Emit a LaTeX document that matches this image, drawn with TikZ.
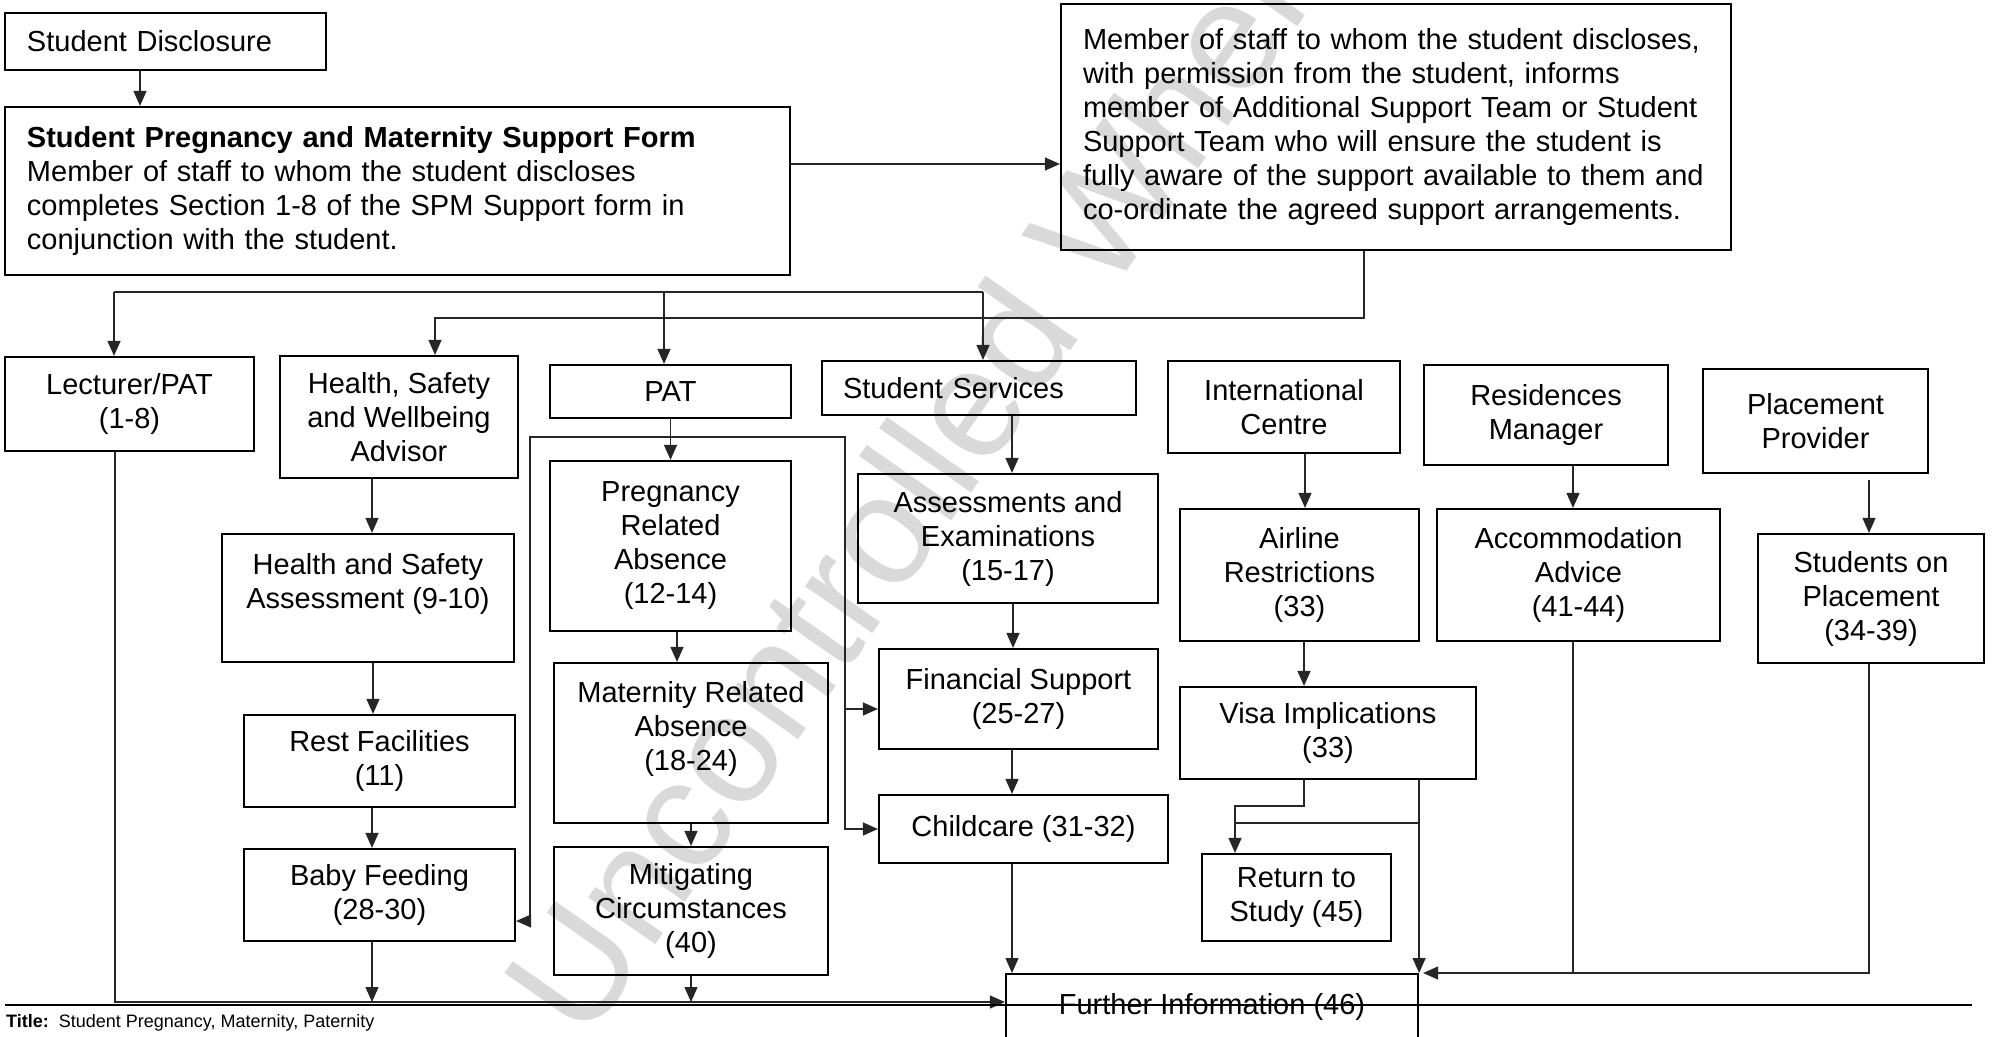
\documentclass[tikz,border=0pt]{standalone}
\usepackage{fontspec}
\setmainfont{Liberation Sans}
\usetikzlibrary{arrows.meta}

\begin{document}
\begin{tikzpicture}[x=1pt, y=-1pt]
\tikzset{ >={Triangle[length=15pt,width=13pt]},
  box/.style={draw, line width=2.2pt, align=center, inner sep=4pt, font=\fontsize{29}{34}\selectfont},
  lbox/.style={box, align=left, inner xsep=22pt},
  link/.style={line width=1.3pt, black!85},
  rule/.style={line width=2.6pt},
  wmark/.style={gray!30, inner sep=0pt, font=\fontsize{155}{155}\selectfont},
}

\useasboundingbox (0,0) rectangle (2015,1036);

% watermark behind everything
\node [wmark, rotate=55, anchor=base west] (wm) at (585,1045) {Uncontrolled When Printed};

\node [lbox, minimum width=321pt, minimum height=57pt, text width=277pt] (disc) at (165.5,41.5) {Student Disclosure};
\node [lbox, minimum width=785pt, minimum height=168pt, text width=741pt] (spm) at (397.5,191) {\textbf{Student Pregnancy and Maternity Support Form}\\Member of staff to whom the student discloses\\completes Section 1-8 of the SPM Support form in\\conjunction with the student.};
\node [lbox, minimum width=670pt, minimum height=246pt, text width=626pt] (inform) at (1396,127) {Member of staff to whom the student discloses,\\with permission from the student, informs\\member of Additional Support Team or Student\\Support Team who will ensure the student is\\fully aware of the support available to them and\\co-ordinate the agreed support arrangements.};

\node [box, minimum width=249pt, minimum height=94pt] (lect) at (129.5,404) {Lecturer/PAT\\(1-8)};
\node [box, minimum width=238pt, minimum height=122pt] (hsw) at (399,417) {Health, Safety\\and Wellbeing\\Advisor};
\node [box, minimum width=241pt, minimum height=53pt] (pat) at (670.5,391.5) {PAT};
\node [lbox, inner xsep=21pt, minimum width=314pt, minimum height=54pt, text width=272pt] (ss) at (979,388) {Student Services};
\node [box, minimum width=232pt, minimum height=92pt] (ic) at (1284,407) {International\\Centre};
\node [box, minimum width=244pt, minimum height=100pt] (rm) at (1546,415) {Residences\\Manager};
\node [box, minimum width=225pt, minimum height=104pt] (pp) at (1815.5,421) {Placement\\Provider};

\node [box, minimum width=292pt, minimum height=128pt] (hsa) at (368,598) {Health and Safety\\Assessment (9-10)\\\mbox{}};
\node [box, minimum width=241pt, minimum height=170pt] (preg) at (670.5,546) {Pregnancy\\Related\\Absence\\(12-14)};
\node [box, minimum width=300pt, minimum height=129pt] (aae) at (1008,538.5) {Assessments and\\Examinations\\(15-17)};
\node [box, minimum width=239pt, minimum height=132pt] (air) at (1299.5,575) {Airline\\Restrictions\\(33)};
\node [box, minimum width=283pt, minimum height=132pt] (acc) at (1578.5,575) {Accommodation\\Advice\\(41-44)};
\node [box, minimum width=226pt, minimum height=129pt] (sop) at (1871,598.5) {Students on\\Placement\\(34-39)};

\node [box, minimum width=271pt, minimum height=92pt] (rest) at (379.5,761) {Rest Facilities\\(11)};
\node [box, minimum width=274pt, minimum height=160pt] (mat) at (691,743) {Maternity Related\\Absence\\(18-24)\\\mbox{}};
\node [box, minimum width=279pt, minimum height=100pt] (fin) at (1018.5,699) {Financial Support\\(25-27)};
\node [box, minimum width=296pt, minimum height=92pt] (visa) at (1328,733) {Visa Implications\\(33)};
\node [box, minimum width=289pt, minimum height=68pt] (cc) at (1023.5,829) {Childcare (31-32)};
\node [box, minimum width=271pt, minimum height=92pt] (bf) at (379.5,895) {Baby Feeding\\(28-30)};
\node [box, minimum width=274pt, minimum height=128pt] (mit) at (691,911) {Mitigating\\Circumstances\\(40)};
\node [box, minimum width=189pt, minimum height=87pt] (ret) at (1296.5,897.5) {Return to\\Study (45)};
\node [box, anchor=north, minimum width=412pt, text height=30pt, text depth=60pt, inner ysep=10pt] (fi) at (1212,973) {Further Information (46)};

\coordinate (t1) at (114,292);
\coordinate (t2) at (983,292);
\coordinate (t3) at (435,318);
\coordinate (low) at (0,1002);
\coordinate (bl) at (530,437);
\coordinate (br) at (845,437);
\coordinate (v1) at (1235,806);
\coordinate (v2) at (1235,823);

\draw [->, link] ([xshift=-25.5pt]disc.south) -- ([xshift=-25.5pt]disc.south |- spm.north);
\draw [->, link] ([yshift=27pt]spm.east) -- ([yshift=27pt]spm.east -| inform.west);

\draw [link] (t1) -- (t2);
\draw [->, link] (t1) -- (t1 |- lect.north);
\draw [->, link] ([xshift=-6.5pt]pat.north |- t1) -- ([xshift=-6.5pt]pat.north);
\draw [->, link] (t2) -- (t2 |- ss.north);
\draw [->, link] ([xshift=-32pt]inform.south) |- (t3) -- (t3 |- hsw.north);

\draw [->, link] ([xshift=-14.5pt]lect.south) |- (low -| fi.west);
\draw [->, link] ([xshift=-27pt]hsw.south) -- ([xshift=-27pt]hsw.south |- hsa.north);
\draw [->, link] ([xshift=5pt]hsa.south) -- ([xshift=5pt]hsa.south |- rest.north);
\draw [->, link] ([xshift=-7.5pt]rest.south) -- ([xshift=-7.5pt]bf.north);
\draw [->, link] ([xshift=-7.5pt]bf.south) -- ([xshift=-7.5pt]bf.south |- low);

\draw [->, link] (pat.south) -- (preg.north);
\draw [->, link] ([xshift=6.5pt]preg.south) -- ([xshift=6.5pt]preg.south |- mat.north);
\draw [->, link] (mat.south) -- (mit.north);
\draw [->, link] (mit.south) -- (mit.south |- low);
\draw [<->, link] ([yshift=-26pt]bf.east) -| (bl) -- (br) |- (cc.west);
\draw [->, link] ([yshift=-10pt]fin.west -| br) -- ([yshift=-10pt]fin.west);

\draw [->, link] ([xshift=33pt]ss.south) -- ([xshift=33pt]ss.south |- aae.north);
\draw [->, link] ([xshift=5pt]aae.south) -- ([xshift=5pt]aae.south |- fin.north);
\draw [->, link] ([xshift=-6.5pt]fin.south) -- ([xshift=-6.5pt]fin.south |- cc.north);
\draw [->, link] ([xshift=-11.5pt]cc.south) -- ([xshift=-11.5pt]cc.south |- fi.north);

\draw [->, link] ([xshift=21pt]ic.south) -- ([xshift=21pt]ic.south |- air.north);
\draw [->, link] ([xshift=4.5pt]air.south) -- ([xshift=4.5pt]air.south |- visa.north);
\draw [->, link] ([xshift=-24pt]visa.south) |- (v1) -- (v1 |- ret.north);
\draw [link] (v2) -- (v2 -| fi.north east);
\draw [->, link] (visa.south -| fi.north east) -- (fi.north east);

\draw [->, link] ([xshift=27pt]rm.south) -- ([xshift=27pt]rm.south |- acc.north);
\draw [link] ([xshift=-5.5pt]acc.south) -- ([xshift=-5.5pt]acc.south |- fi.north);
\draw [->, link] ([xshift=53.5pt,yshift=-6pt]pp.south) -- ([xshift=53.5pt]pp.south |- sop.north);
\draw [->, link] ([xshift=-2pt]sop.south) |- ([xshift=4pt]fi.north east);

% footer rule and title
\draw [rule] (5,1005) -- (1972,1005);
\node [anchor=base west, inner sep=0pt, font=\fontsize{18}{20}\selectfont] (ttl) at (6,1027) {\textbf{Title:}\ \ Student Pregnancy, Maternity, Paternity};

\end{tikzpicture}
\end{document}
